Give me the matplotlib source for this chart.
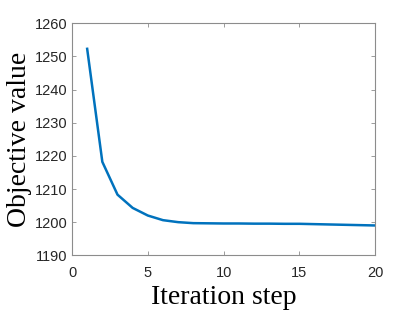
import matplotlib
matplotlib.use("Agg")
import matplotlib.pyplot as plt

steps = list(range(1, 21))
objective = [1252.3, 1218.2, 1208.3, 1204.3, 1202.0, 1200.6, 1200.0, 1199.7, 1199.65, 1199.6,
             1199.6, 1199.55, 1199.55, 1199.5, 1199.5, 1199.4, 1199.3, 1199.2, 1199.1, 1199.0]
xticks = [0, 5, 10, 15, 20]
yticks = [1190, 1200, 1210, 1220, 1230, 1240, 1250, 1260]

fig = plt.figure(figsize=(4.15, 3.12), dpi=100)
ax = fig.add_axes([72/415, 1-255.3/312, (375.3-72)/415, (255.3-23.3)/312])
ax.plot(steps, objective, color="#0072BD", lw=1.8)
ax.set_xlim(0, 20)
ax.set_ylim(1190, 1260)
ax.set_xticks(xticks)
ax.set_yticks(yticks)
for s in ax.spines.values():
    s.set_color("#8c8c8c")
    s.set_linewidth(0.8)
ax.tick_params(direction="in", top=True, right=True, length=3, width=0.6,
               color="#8c8c8c", labelcolor="#262626", labelsize=10.5)
ax.tick_params(axis="x", pad=7.5)
for lab in ax.get_xticklabels() + ax.get_yticklabels():
    lab.set_family("Liberation Sans")
ax.set_xlabel("Iteration step", family="Liberation Serif", fontsize=20, labelpad=4)
ax.set_ylabel("Objective value", family="Liberation Serif", fontsize=20, labelpad=2)
fig.savefig("out.png", dpi=100)
